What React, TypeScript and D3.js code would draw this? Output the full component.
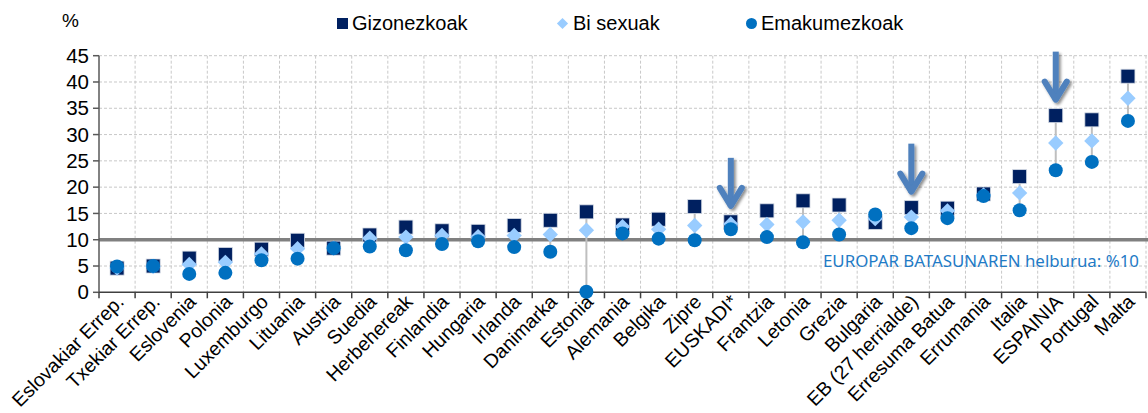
import React from "react";
import * as d3 from "d3";

// categories along x, left to right
const categories = [
  "Eslovakiar Errep.", "Txekiar Errep.", "Eslovenia", "Polonia", "Luxemburgo",
  "Lituania", "Austria", "Suedia", "Herbehereak", "Finlandia", "Hungaria",
  "Irlanda", "Danimarka", "Estonia", "Alemania", "Belgika", "Zipre", "EUSKADI*",
  "Frantzia", "Letonia", "Grezia", "Bulgaria", "EB (27 herrialde)",
  "Erresuma Batua", "Errumania", "Italia", "ESPAINIA", "Portugal", "Malta",
];

const gizonezkoak = [
  4.6, 5.0, 6.5, 7.2, 8.2, 9.9, 8.4, 10.9, 12.4, 11.7, 11.6, 12.7, 13.7, 15.3,
  12.8, 13.9, 16.3, 13.4, 15.5, 17.4, 16.6, 13.3, 16.1, 16.0, 18.7, 22.0, 33.6,
  32.8, 41.1,
];
const biSexuak = [
  4.6, 4.9, 5.3, 5.7, 7.3, 8.3, 8.4, 10.3, 10.5, 10.8, 10.6, 10.8, 11.0, 11.8,
  12.5, 12.0, 12.7, 13.0, 12.9, 13.4, 13.7, 14.0, 14.3, 15.5, 18.5, 18.9, 28.4,
  28.8, 36.9,
];
const emakumezkoak = [
  4.9, 5.0, 3.5, 3.7, 6.1, 6.4, 8.4, 8.7, 8.0, 9.2, 9.7, 8.6, 7.7, 0.1, 11.2,
  10.2, 9.9, 12.0, 10.5, 9.5, 11.0, 14.8, 12.2, 14.1, 18.3, 15.6, 23.2, 24.8,
  32.6,
];

const yTicks = [0, 5, 10, 15, 20, 25, 30, 35, 40, 45];
const target = 10;
const arrowAt = ["EUSKADI*", "EB (27 herrialde)", "ESPAINIA"];

const W = 1148;
const H = 413;
const font = "'Liberation Sans', Arial, sans-serif";
const navy = "#002060";
const light = "#99CCFF";
const mid = "#0070C0";

export default function App() {
  const x = d3.scaleBand<string>().domain(categories).range([99, 1146]);
  const y = d3.scaleLinear().domain([0, 45]).range([292.3, 55.7]);
  const bw = x.bandwidth();
  const cx = (c: string) => (x(c) as number) + bw / 2;
  const diamond = d3.symbol().type(d3.symbolDiamond2).size(150)();
  const boundaries = categories.map((c) => x(c) as number).concat([1146]);

  return (
    <svg width={W} height={H} style={{ position: "absolute", left: 0, top: 0, background: "#fff" }}>
      <defs>
        <filter id="shadow" x="-50%" y="-50%" width="200%" height="200%">
          <feGaussianBlur in="SourceAlpha" stdDeviation="1.5" />
          <feOffset dx="2" dy="2" result="b" />
          <feComponentTransfer>
            <feFuncA type="linear" slope="0.45" />
          </feComponentTransfer>
          <feMerge>
            <feMergeNode />
            <feMergeNode in="SourceGraphic" />
          </feMerge>
        </filter>
      </defs>

      {/* grid */}
      {yTicks.filter((t) => t > 0).map((t) => (
        <line key={"h" + t} x1={99} x2={W} y1={y(t)} y2={y(t)}
          stroke="#C8C8C8" strokeDasharray="3,2" />
      ))}
      {boundaries.slice(1).map((b, i) => (
        <line key={"v" + i} x1={b} x2={b} y1={y(45)} y2={y(0)}
          stroke="#C8C8C8" strokeDasharray="3,2" />
      ))}

      {/* target line */}
      <line x1={99} x2={W} y1={y(target)} y2={y(target)} stroke="#808080" strokeWidth={3.5} />
      <text x={1139} y={267} textAnchor="end" fontFamily="'Noto Sans', sans-serif"
        fontSize={17} fill="#1F7BC6" textLength={316} lengthAdjust="spacingAndGlyphs">
        EUROPAR BATASUNAREN helburua: %10
      </text>

      {/* y axis */}
      <line x1={99} x2={99} y1={y(45)} y2={y(0)} stroke="#595959" strokeWidth={1.5} />
      {yTicks.map((t) => (
        <g key={"yt" + t}>
          <line x1={93} x2={99} y1={y(t)} y2={y(t)} stroke="#595959" strokeWidth={1.5} />
          <text x={89} y={y(t)} dy="0.35em" textAnchor="end" fontFamily={font}
            fontSize={20.5} fill="#000">{t}</text>
        </g>
      ))}
      <text x={62} y={27} fontFamily={font} fontSize={19} fill="#000">%</text>

      {/* x axis */}
      <line x1={99} x2={1146} y1={y(0)} y2={y(0)} stroke="#404040" strokeWidth={1.5} />
      {boundaries.map((b, i) => (
        <line key={"xt" + i} x1={b} x2={b} y1={y(0)} y2={y(0) + 6} stroke="#404040" strokeWidth={1.5} />
      ))}
      {categories.map((c) => (
        <text key={"xl" + c} transform={`translate(${cx(c) + 8},${303}) rotate(-45)`}
          textAnchor="end" fontFamily={font} fontSize={19.5} fill="#000">{c}</text>
      ))}

      {/* high-low lines */}
      {categories.map((c, i) => {
        const vals = [gizonezkoak[i], biSexuak[i], emakumezkoak[i]];
        return (
          <line key={"hl" + c} x1={cx(c)} x2={cx(c)} y1={y(d3.max(vals) as number)}
            y2={y(d3.min(vals) as number)} stroke="#BFBFBF" strokeWidth={2} />
        );
      })}

      {/* series */}
      {categories.map((c, i) => (
        <rect key={"g" + c} x={cx(c) - 7} y={y(gizonezkoak[i]) - 7} width={14} height={14}
          fill={navy} stroke="#D6DCE5" strokeWidth={0.8} />
      ))}
      {categories.map((c, i) => (
        <path key={"b" + c} d={diamond as string}
          transform={`translate(${cx(c)},${y(biSexuak[i])})`} fill={light} />
      ))}
      {categories.map((c, i) => (
        <circle key={"e" + c} cx={cx(c)} cy={y(emakumezkoak[i])} r={7} fill={mid} />
      ))}

      {/* arrows */}
      {arrowAt.map((c) => {
        const ax = cx(c);
        const tip = y(gizonezkoak[categories.indexOf(c)]) - 12;
        return (
          <g key={"ar" + c} filter="url(#shadow)" stroke="#4F81BD" fill="none"
            strokeWidth={6} strokeLinejoin="round">
            <line x1={ax} x2={ax} y1={tip - 52} y2={tip - 3} strokeLinecap="butt" />
            <polyline points={`${ax - 11},${tip - 22} ${ax},${tip - 4} ${ax + 11},${tip - 22}`}
              strokeLinecap="round" />
          </g>
        );
      })}

      {/* legend */}
      <rect x={337} y={18} width={11} height={11} fill={navy} />
      <text x={352} y={30} fontFamily={font} fontSize={20} fill="#000">Gizonezkoak</text>
      <path d={d3.symbol().type(d3.symbolDiamond2).size(80)() as string}
        transform="translate(562.5,23.5)" fill={light} />
      <text x={573} y={30} fontFamily={font} fontSize={20} fill="#000">Bi sexuak</text>
      <circle cx={751.5} cy={23.5} r={5.5} fill={mid} />
      <text x={761} y={30} fontFamily={font} fontSize={20} fill="#000">Emakumezkoak</text>
    </svg>
  );
}
